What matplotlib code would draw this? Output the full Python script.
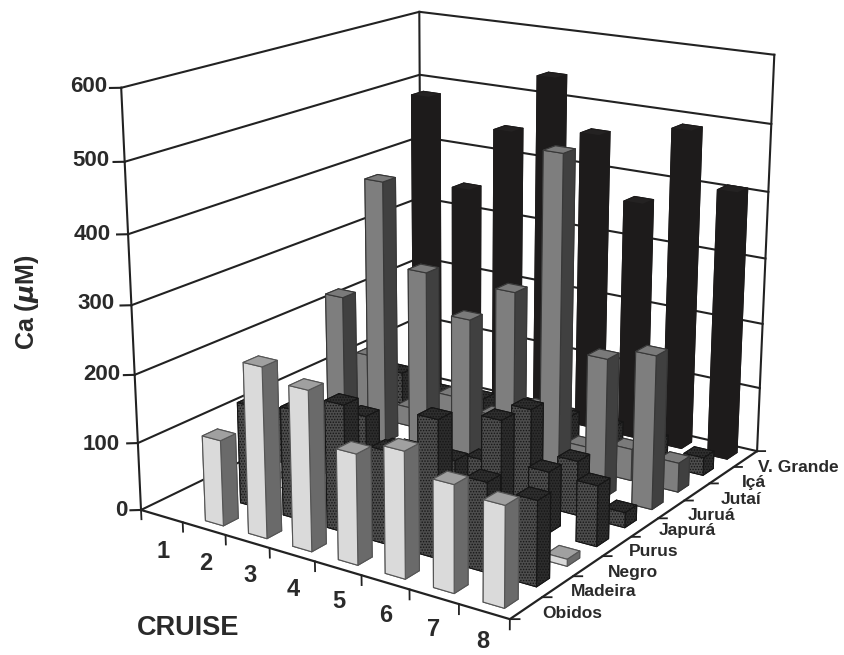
import numpy as np
import matplotlib
matplotlib.use("Agg")
import matplotlib.pyplot as plt

W, H = 845, 655
plt.rcParams["font.family"] = ["Liberation Sans", "DejaVu Sans"]
plt.rcParams["font.weight"] = "bold"
plt.rcParams["mathtext.fontset"] = "dejavusans"
plt.rcParams["hatch.linewidth"] = 0.7

cruises = ["1", "2", "3", "4", "5", "6", "7", "8"]
rivers = ["Obidos", "Madeira", "Negro", "Purus", "Japurá", "Juruá", "Jutaí", "Içá", "V. Grande"]
z_ticks = [0, 100, 200, 300, 400, 500, 600]

# Ca por crucero (nan = sin barra)
obidos = [np.nan, 125, 246, 229, 157, 178, 150, 140]
madeira = [np.nan, 150, 160, 185, 135, 197, 127, 120]
negro = [np.nan, 15, 15, 20, 20, 15, 15, 10]
purus = [70, 50, 105, 70, 72, 148, 90, 88]
japura = [40, 20, 30, 30, 47, 140, 80, 22]
jurua = [215, 405, 280, 222, 277, 490, 207, 227]
jutai = [100, 30, 65, 50, 78, 35, 48, 44]
ica = [50, 33, 38, 43, 40, 40, 35, 27]
v_grande = [480, 343, 445, 537, 460, 367, 487, 407]
valores = [obidos, madeira, negro, purus, japura, jurua, jutai, ica, v_grande]

# caras: -Z, +Z, -Y, +Y, -X, +X
CLARO = {"top": "#a0a0a0", "front": "#dadada", "side": "#6a6a6a", "edge": "#555555", "hatch": None}
OSCURO = {"top": "#2e2e2e", "front": "#4d4d4d", "side": "#2c2c2c", "edge": "#161616", "hatch": "......"}
GRIS = {"top": "#7a7a7a", "front": "#7e7e7e", "side": "#404040", "edge": "#383838", "hatch": None}
NEGRO = {"top": "#242222", "front": "#1d1b1b", "side": "#1d1b1b", "edge": "#1d1b1b", "hatch": None}
estilos = [CLARO, OSCURO, CLARO, OSCURO, OSCURO, GRIS, GRIS, OSCURO, NEGRO]

LINEA = "#222222"


def px(x, y):
    return x / W, 1 - y / H


fig = plt.figure(figsize=(W / 100, H / 100), dpi=100)
ax = fig.add_axes([0.08341, -0.02297, 0.89642, 1.15645], projection="3d", computed_zorder=False)
ax.set_xlim(0, 8)
ax.set_ylim(0, 9)
ax.set_zlim(0, 600)
ax.view_init(elev=17.184, azim=-55.939)
ax.set_proj_type("persp", focal_length=0.5295)
ax.set_box_aspect((1.02, 1.1355, 1))
ax.set_axis_off()

# Paredes y rejilla
for z in z_ticks:
    ax.plot([0, 0, 8], [0, 9, 9], [z, z, z], color=LINEA, lw=1.5, zorder=0.5)
for x, y in [(0, 0), (0, 9), (8, 9)]:
    ax.plot([x, x], [y, y], [0, 600], color=LINEA, lw=1.5, zorder=0.5)

# Barras de atrás hacia adelante
orden = 1
for j in range(len(rivers) - 1, -1, -1):
    est = estilos[j]
    for i in range(len(cruises)):
        v = valores[j][i]
        if np.isnan(v):
            continue
        colores = [est["front"], est["top"], est["front"], est["side"], est["front"], est["side"]]
        b = ax.bar3d(i + 0.29, j + 0.29, 0, 0.42, 0.42, v, color=colores, shade=False,
                     edgecolor=est["edge"], linewidth=0.8)
        if est["hatch"]:
            b.set_hatch(est["hatch"])
        b.set_zorder(orden)
        orden += 1

# Ejes del frente y marcas
ax.plot([0, 8, 8], [0, 0, 9], [0, 0, 0], color=LINEA, lw=1.6, zorder=1000)
for x in range(9):
    ax.plot([x, x], [0, 0], [0, -14], color=LINEA, lw=1.3, zorder=1000)
for y in range(10):
    ax.plot([8, 8.13], [y, y + 0.09], [0, 0], color=LINEA, lw=1.3, zorder=1000)
for z in z_ticks:
    ax.plot([0, -0.15], [0, -0.12], [z, z], color=LINEA, lw=1.5, zorder=1000)

color_txt = "#2a2a2a"
z_pos = [(127, 510), (120, 444), (120, 374), (115, 304), (111, 234), (109, 161), (107, 86)]
for z, (x, y) in zip(z_ticks, z_pos):
    fig.text(*px(x, y), str(z), ha="right", va="center", fontsize=16, color=color_txt)

cruise_pos = [(163, 552), (206, 564), (250, 576), (293, 589), (339, 602), (386, 616), (434, 630), (483, 642)]
for c, (x, y) in zip(cruises, cruise_pos):
    fig.text(*px(x, y), c, ha="center", va="center", fontsize=17, color=color_txt)

river_pos = [(572, 613), (604, 592), (633, 573), (654, 551), (687, 531), (712, 515), (741, 499), (754, 482), (798, 468)]
for r, (x, y) in zip(rivers, river_pos):
    fig.text(*px(x, y), r, ha="center", va="center", fontsize=12.5, color=color_txt)

fig.text(*px(188, 628), "CRUISE", ha="center", va="center", fontsize=19.5, color=color_txt)
fig.text(*px(27, 302), "Ca ($\\mu$M)", ha="center", va="center", rotation=90, fontsize=18, color=color_txt)

fig.savefig("out.png", dpi=100)
